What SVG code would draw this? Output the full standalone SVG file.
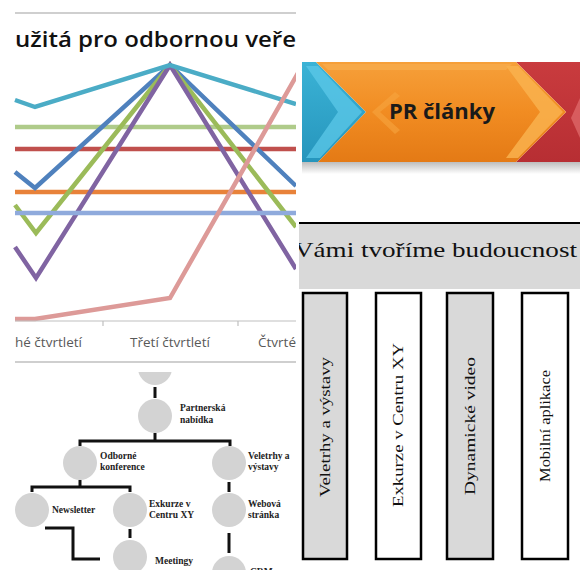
<svg xmlns="http://www.w3.org/2000/svg" width="580" height="570" viewBox="0 0 580 570">
<defs>
<style>
.ln{fill:none;stroke-width:4.5;stroke-linejoin:miter;stroke-linecap:butt}
.ax{font-family:"Open Sans","Liberation Sans",sans-serif;font-size:13.5px;fill:#595959}
.circ{fill:#D3D3D3}
.lab{font-family:"Liberation Serif","Times New Roman",serif;font-weight:bold;font-size:9.5px;fill:#222}
.con{fill:none;stroke:#111;stroke-width:3}
.col{stroke:#000;stroke-width:2.5}
.vt{font-family:"Liberation Serif","Times New Roman",serif;font-size:15px;fill:#111}
</style>
<clipPath id="cTL"><rect x="0" y="0" width="296" height="356"/></clipPath>
<clipPath id="cBL"><rect x="0" y="372" width="297" height="198"/></clipPath>
<clipPath id="cR"><rect x="299" y="0" width="281" height="570"/></clipPath>
<linearGradient id="gOr" x1="0" y1="0" x2="0" y2="1">
<stop offset="0" stop-color="#F6A03A"/><stop offset="0.5" stop-color="#F18C22"/><stop offset="1" stop-color="#E47A15"/>
</linearGradient>
<linearGradient id="gBl" x1="0" y1="0" x2="0" y2="1">
<stop offset="0" stop-color="#3BB3D6"/><stop offset="1" stop-color="#2695BC"/>
</linearGradient>
<linearGradient id="gRd" x1="0" y1="0" x2="0" y2="1">
<stop offset="0" stop-color="#C93B3E"/><stop offset="1" stop-color="#B72E33"/>
</linearGradient>
<linearGradient id="gSh" x1="0" y1="0" x2="0" y2="1">
<stop offset="0" stop-color="#BDBDBD"/><stop offset="1" stop-color="#FFFFFF"/>
</linearGradient>
</defs>
<rect width="580" height="570" fill="#FFFFFF"/>

<!-- Top-left: line chart -->
<g id="chart" clip-path="url(#cTL)">
<line x1="15" y1="13" x2="296" y2="13" stroke="#BFBFBF" stroke-width="1.5"/>
<text x="15" y="47" font-family="'Open Sans','Liberation Sans',sans-serif" font-size="21" font-weight="600" fill="#111" textLength="281" lengthAdjust="spacingAndGlyphs">užitá pro odbornou veře</text>
<polyline class="ln" stroke="#AFCB8A" points="15,127 296,127"/>
<polyline class="ln" stroke="#C0504D" points="15,149 296,149"/>
<polyline class="ln" stroke="#E8823A" points="15,192 296,192"/>
<polyline class="ln" stroke="#4F81BD" points="15,172 35,188 170,65 296,186"/>
<polyline class="ln" stroke="#9BBB59" points="15,205 36,233 170,65 296,227"/>
<polyline class="ln" stroke="#8064A2" points="15,247 36,278 170,65 296,269"/>
<polyline class="ln" stroke="#8FAADC" points="15,213 296,213"/>
<polyline class="ln" stroke="#4BACC6" points="15,100 35,107 170,65 296,104"/>
<polyline class="ln" stroke="#DD9A98" points="15,319 35,319 170,298 298,73"/>
<line x1="15" y1="321" x2="296" y2="321" stroke="#BFBFBF" stroke-width="1.2"/>
<line x1="103" y1="321" x2="103" y2="326" stroke="#BFBFBF" stroke-width="1.2"/>
<line x1="238" y1="321" x2="238" y2="326" stroke="#BFBFBF" stroke-width="1.2"/>
<text class="ax" x="15" y="347">hé čtvrtletí</text>
<text class="ax" x="170" y="347" text-anchor="middle">Třetí čtvrtletí</text>
<text class="ax" x="258" y="347">Čtvrté</text>
</g>

<!-- Top-right: chevron banner -->
<g id="banner" clip-path="url(#cR)">
<rect x="302" y="162" width="278" height="12" fill="url(#gSh)"/>
<polygon points="302,62 316,62 366,112 318,162 302,162" fill="url(#gBl)"/>
<polygon points="306,66 318,66 362,112 320,158 306,158 338,112" fill="#5CC8E8" opacity="0.75"/>
<polygon points="516,62 580,62 580,162 516,162 566,112" fill="url(#gRd)"/>
<polygon points="580,98 571,118 580,138" fill="#E87878" opacity="0.6"/>
<polygon points="316,62 516,62 566,112 516,162 318,162 366,112" fill="url(#gOr)"/>
<polygon points="322,64 512,64 506,70 328,70" fill="#F8AE50" opacity="0.7"/>
<polygon points="506,66 518,66 563,112 518,158 506,158 540,112" fill="#F9B24E" opacity="0.85"/>
<polygon points="372,112 395,92 400,96 380,112 400,130 395,134" fill="#F7A540" opacity="0.6"/>
<text x="442" y="119" text-anchor="middle" font-family="'Open Sans','Liberation Sans',sans-serif" font-size="22" font-weight="bold" fill="#1A1A1A">PR články</text>
</g>

<!-- Bottom-right: header with columns -->
<g id="header" clip-path="url(#cR)">
<rect x="299" y="223" width="281" height="66" fill="#D9D9D9"/>
<line x1="299" y1="223" x2="580" y2="223" stroke="#000" stroke-width="2"/>
<text x="294" y="257" font-family="'Liberation Serif','Times New Roman',serif" font-size="21" fill="#111" textLength="283" lengthAdjust="spacingAndGlyphs">Vámi tvoříme budoucnost</text>
</g>
<g id="col1"><rect class="col" x="303" y="293" width="44" height="266" fill="#D9D9D9"/>
<text class="vt" transform="translate(330,427) rotate(-90)" text-anchor="middle" textLength="140" lengthAdjust="spacingAndGlyphs">Veletrhy a výstavy</text></g>
<g id="col2"><rect class="col" x="376" y="293" width="45" height="266" fill="#FFFFFF"/>
<text class="vt" transform="translate(403,425) rotate(-90)" text-anchor="middle" textLength="164" lengthAdjust="spacingAndGlyphs">Exkurze v Centru XY</text></g>
<g id="col3"><rect class="col" x="447" y="293" width="46" height="266" fill="#D9D9D9"/>
<text class="vt" transform="translate(475,426) rotate(-90)" text-anchor="middle" textLength="138" lengthAdjust="spacingAndGlyphs">Dynamické video</text></g>
<g id="col4"><rect class="col" x="522" y="293" width="46" height="266" fill="#FFFFFF"/>
<text class="vt" transform="translate(550,426) rotate(-90)" text-anchor="middle" textLength="112" lengthAdjust="spacingAndGlyphs">Mobilní aplikace</text></g>

<!-- Bottom-left: org chart -->
<line x1="15" y1="362" x2="296" y2="362" stroke="#BFBFBF" stroke-width="1.5"/>
<g clip-path="url(#cBL)">
<g id="connectors">
<polyline class="con" points="155,387 155,398"/>
<polyline class="con" points="155,433 155,441"/>
<polyline class="con" points="80,446 80,441 230,441 230,446"/>
<polyline class="con" points="80,480 80,487"/>
<polyline class="con" points="32,492 32,487 130,487 130,492"/>
<polyline class="con" points="229,482 229,492"/>
<polyline class="con" points="130,529 130,538"/>
<polyline class="con" points="45,528 73,528 73,559 100,559"/>
<polyline class="con" stroke-width="4" points="229,533 229,553"/>
</g>
<g id="n0"><circle class="circ" cx="155" cy="368" r="17"/></g>
<g id="n-partner"><circle class="circ" cx="155" cy="416" r="17"/>
<text class="lab" x="180" y="411">Partnerská</text><text class="lab" x="180" y="423">nabídka</text></g>
<g id="n-odborne"><circle class="circ" cx="80" cy="463" r="17"/>
<text class="lab" x="100" y="459">Odborné</text><text class="lab" x="100" y="470">konference</text></g>
<g id="n-veletrhy"><circle class="circ" cx="229" cy="463" r="17"/>
<text class="lab" x="248" y="459">Veletrhy a</text><text class="lab" x="248" y="470">výstavy</text></g>
<g id="n-newsletter"><circle class="circ" cx="32" cy="510" r="17"/>
<text class="lab" x="52" y="513">Newsletter</text></g>
<g id="n-exkurze"><circle class="circ" cx="130" cy="510" r="17"/>
<text class="lab" x="149" y="507">Exkurze v</text><text class="lab" x="149" y="518">Centru XY</text></g>
<g id="n-webova"><circle class="circ" cx="229" cy="510" r="17"/>
<text class="lab" x="248" y="507">Webová</text><text class="lab" x="248" y="518">stránka</text></g>
<g id="n-meetingy"><circle class="circ" cx="130" cy="557" r="17"/>
<text class="lab" x="155" y="564">Meetingy</text></g>
<g id="n-crm"><circle class="circ" cx="229" cy="573" r="17"/>
<text class="lab" x="250" y="575">CRM</text></g>
</g>
</svg>
